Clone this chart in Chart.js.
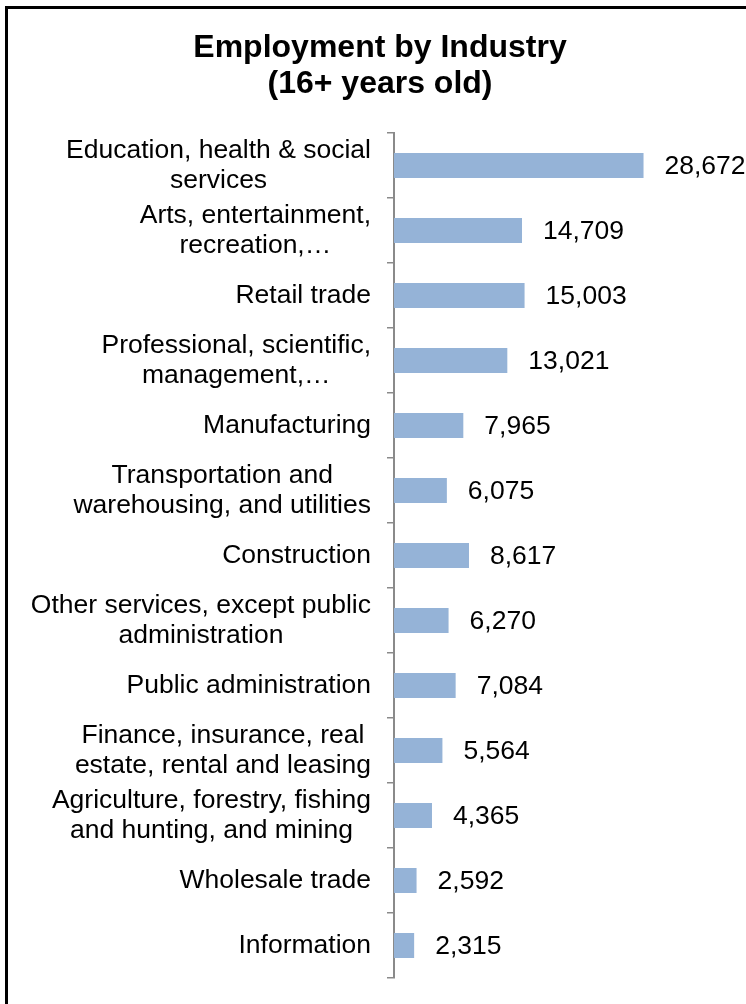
<!DOCTYPE html>
<html>
<head>
<meta charset="utf-8">
<title>Employment by Industry</title>
<script src="https://cdn.jsdelivr.net/npm/chart.js@4/dist/chart.umd.min.js"></script>
<style>
  html, body { margin: 0; padding: 0; background: #fff; overflow: hidden; }
  #wrap { position: relative; width: 746px; height: 1004px; }
  #frame {
    position: absolute; left: 5px; top: 6px; width: 900px; height: 1200px;
    border-left: 3px solid #000; border-top: 3px solid #000; pointer-events: none;
  }
  canvas { position: absolute; left: 0; top: 0; }
</style>
</head>
<body>
<div id="wrap">
  <canvas id="chart" width="746" height="1004"></canvas>
  <div id="frame"></div>
</div>
<script>
// Industry categories (top to bottom) and employed persons aged 16+
const industries = [
  ["Education, health & social", "services"],
  ["Arts, entertainment,", "recreation,…"],
  "Retail trade",
  ["Professional, scientific,", "management,…"],
  "Manufacturing",
  ["Transportation and", "warehousing, and utilities"],
  "Construction",
  ["Other services, except public", "administration"],
  "Public administration",
  ["Finance, insurance, real", "estate, rental and leasing"],
  ["Agriculture, forestry, fishing", "and hunting, and mining"],
  "Wholesale trade",
  "Information"
];
const employed = [28672, 14709, 15003, 13021, 7965, 6075, 8617, 6270, 7084, 5564, 4365, 2592, 2315];
const titleLines = ["Employment by Industry", "(16+ years old)"];

const FONT = '"Liberation Sans", Arial, Helvetica, sans-serif';
const AXIS_GRAY = '#8a8a8a';
const TICK_LEN = 7;
const LABEL_GAP = 16;

// Category labels: each block right-aligned to the axis, lines centred within the block
const categoryLabels = {
  id: 'categoryLabels',
  afterDraw(chart) {
    const { ctx } = chart;
    const yScale = chart.scales.y;
    const right = chart.chartArea.left - TICK_LEN - LABEL_GAP;
    const lineH = 30;
    ctx.save();
    ctx.font = '26.5px ' + FONT;
    ctx.fillStyle = '#000';
    ctx.textBaseline = 'middle';
    ctx.textAlign = 'center';
    industries.forEach((lab, i) => {
      const lines = Array.isArray(lab) ? lab : [lab];
      const w = Math.max(...lines.map(l => ctx.measureText(l).width));
      const cx = right - w / 2;
      const cy = yScale.getPixelForValue(i);
      lines.forEach((l, j) => {
        ctx.fillText(l, cx, cy + (j - (lines.length - 1) / 2) * lineH);
      });
    });
    ctx.restore();
  }
};

// Value labels just beyond the end of each bar
const valueLabels = {
  id: 'valueLabels',
  afterDatasetsDraw(chart) {
    const { ctx } = chart;
    const meta = chart.getDatasetMeta(0);
    ctx.save();
    ctx.font = '26.5px ' + FONT;
    ctx.fillStyle = '#000';
    ctx.textBaseline = 'middle';
    ctx.textAlign = 'left';
    meta.data.forEach((bar, i) => {
      ctx.fillText(employed[i].toLocaleString('en-US'), bar.x + 21, bar.y + 1);
    });
    ctx.restore();
  }
};

new Chart(document.getElementById('chart'), {
  type: 'bar',
  data: {
    labels: industries,
    datasets: [{
      data: employed,
      backgroundColor: '#95b3d7',
      borderWidth: 0,
      categoryPercentage: 1,
      barPercentage: 0.385
    }]
  },
  options: {
    indexAxis: 'y',
    responsive: false,
    animation: false,
    layout: { padding: { left: 44, right: 30, top: 0, bottom: 26 } },
    plugins: {
      legend: { display: false },
      tooltip: { enabled: false },
      title: {
        display: true,
        text: titleLines,
        color: '#000',
        font: { family: FONT, size: 32, weight: 'bold', lineHeight: 1.1 },
        padding: { top: 31, bottom: 31.6 }
      }
    },
    scales: {
      x: { display: false, min: 0, max: 37000 },
      y: {
        grid: {
          display: true,
          drawOnChartArea: false,
          drawTicks: true,
          tickLength: TICK_LEN,
          color: AXIS_GRAY,
          lineWidth: 1.5
        },
        border: { display: true, color: AXIS_GRAY, width: 2 },
        ticks: { display: false },
        afterFit(scale) { scale.width = 350; }
      }
    }
  },
  plugins: [categoryLabels, valueLabels]
});
</script>
</body>
</html>
